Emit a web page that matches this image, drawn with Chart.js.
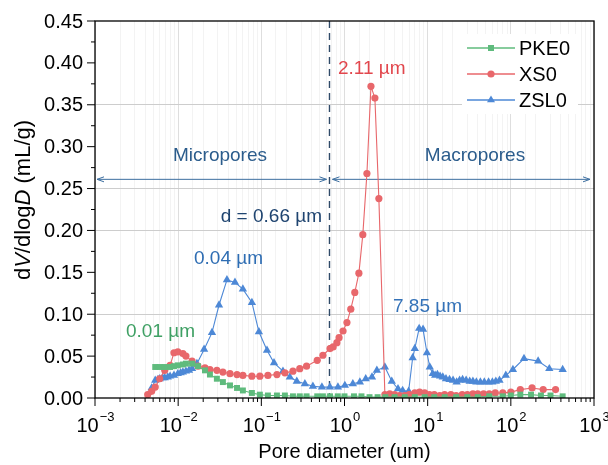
<!DOCTYPE html>
<html>
<head>
<meta charset="utf-8">
<script src="https://cdn.jsdelivr.net/npm/chart.js@4.4.0/dist/chart.umd.min.js"></script>
<style>
  html, body { margin:0; padding:0; background:#fff; }
  #wrap { width:608px; height:465px; position:relative; }
</style>
</head>
<body>
<div id="wrap"><canvas id="c"></canvas></div>
<script>
'use strict';

// ── Data (pore diameter in um, dV/dlogD in mL/g) ─────────────────────────────
var pkeX = [0.0053,0.0060,0.0069,0.0080,0.0089,0.0099,0.0114,0.0124,0.0147,0.0173,0.021,0.0241,0.0292,0.0345,0.042,0.051,0.060,0.077,0.096,0.12,0.154,0.192,0.24,0.29,0.35,0.47,0.55,0.67,0.83,1.0,1.3,1.6,2.0,2.5,3.1,4.0,5.3,7.0,9.2,12,16,22,30,40,55,80,100,130,175,230,300,420];
var pkeY = [0.037,0.037,0.037,0.037,0.038,0.039,0.040,0.041,0.041,0.038,0.033,0.028,0.023,0.019,0.015,0.012,0.009,0.006,0.004,0.003,0.003,0.003,0.002,0.002,0.002,0.002,0.002,0.002,0.002,0.002,0.002,0.002,0.001,0.001,0.001,0.001,0.001,0.001,0.001,0.001,0.001,0.001,0.001,0.001,0.002,0.002,0.003,0.004,0.004,0.003,0.003,0.002];

var xsX = [0.0043,0.0048,0.0053,0.0060,0.0069,0.0080,0.0089,0.0099,0.0114,0.0124,0.0147,0.0173,0.021,0.0241,0.0292,0.0345,0.042,0.051,0.060,0.077,0.096,0.12,0.154,0.192,0.24,0.29,0.35,0.47,0.55,0.67,0.73,0.81,0.86,0.96,1.07,1.19,1.33,1.49,1.66,1.86,2.08,2.32,2.59,3.06,3.5,4.0,4.6,5.3,6.0,7.0,8.0,9.2,10.5,12,14,16,19,22,26,30,35,40,47,55,65,80,100,130,180,245,345];
var xsY = [0.004,0.008,0.013,0.023,0.033,0.039,0.054,0.055,0.053,0.050,0.044,0.038,0.036,0.034,0.033,0.031,0.029,0.028,0.027,0.026,0.026,0.027,0.028,0.030,0.032,0.035,0.038,0.045,0.051,0.059,0.061,0.066,0.072,0.080,0.090,0.106,0.126,0.149,0.195,0.268,0.372,0.358,0.238,0.004,0.005,0.004,0.003,0.003,0.004,0.006,0.007,0.006,0.004,0.004,0.003,0.004,0.004,0.003,0.004,0.004,0.005,0.005,0.005,0.005,0.006,0.006,0.007,0.010,0.012,0.010,0.010];

var zslX = [0.0048,0.0053,0.0057,0.0060,0.0065,0.0069,0.0075,0.0080,0.0089,0.0099,0.0107,0.0114,0.0124,0.0135,0.0147,0.0168,0.0205,0.0255,0.031,0.0386,0.0482,0.060,0.077,0.0935,0.117,0.142,0.182,0.22,0.267,0.334,0.417,0.535,0.668,0.834,1.01,1.26,1.53,1.80,2.14,2.45,3.06,3.7,4.4,5.0,5.9,6.6,7.0,7.9,8.8,9.8,10.6,11.5,12.3,13.1,14.1,15.2,16.6,18.3,20.2,22.3,24.2,26.3,29,32,35,38.5,43,48,54,60,66,73,87,106,144,213,290,420];
var zslY = [0.012,0.021,0.022,0.023,0.024,0.024,0.025,0.026,0.027,0.029,0.030,0.031,0.032,0.033,0.035,0.041,0.058,0.078,0.111,0.141,0.138,0.130,0.114,0.079,0.057,0.042,0.032,0.025,0.020,0.017,0.014,0.013,0.013,0.013,0.015,0.017,0.019,0.023,0.025,0.033,0.037,0.020,0.011,0.009,0.008,0.048,0.059,0.083,0.082,0.054,0.037,0.029,0.027,0.028,0.026,0.025,0.023,0.022,0.021,0.019,0.021,0.022,0.021,0.020,0.020,0.019,0.019,0.019,0.019,0.019,0.020,0.021,0.027,0.034,0.047,0.044,0.035,0.034];

var seriesNames = ['PKE0','XS0','ZSL0'];
var yTickLabels = ['0.00','0.05','0.10','0.15','0.20','0.25','0.30','0.35','0.40','0.45'];
var xTickExps   = [-3,-2,-1,0,1,2,3];
var yGridShown  = [0.10, 0.20, 0.25, 0.35];

// ── Styles ───────────────────────────────────────────────────────────────────
var FONT = '"Liberation Sans", Arial, sans-serif';
var GREEN = '#5fbb7d', RED = '#e8676b', BLUE = '#4d88d6';

function pts(xs, ys) { return xs.map(function(x, i) { return { x:x, y:ys[i] }; }); }

function marker(ctx, style, x, y, col) {
  ctx.save(); ctx.fillStyle = col; ctx.strokeStyle = col; ctx.lineWidth = 1;
  ctx.beginPath();
  if (style === 'rect') ctx.rect(x-3, y-3, 6, 6);
  else if (style === 'circle') ctx.arc(x, y, 3.6, 0, Math.PI*2);
  else { ctx.moveTo(x, y-4.6); ctx.lineTo(x+4, y+2.3); ctx.lineTo(x-4, y+2.3); ctx.closePath(); }
  ctx.fill(); ctx.restore();
}

// ── Decorations: axes box, ticks, labels, legend, annotations ───────────────
var decor = {
  id: 'decor',
  beforeDatasetsDraw: function(chart) {
    var ctx = chart.ctx, a = chart.chartArea, xs = chart.scales.x, ys = chart.scales.y;
    // split line d = 0.66 um
    var dx = xs.getPixelForValue(0.66);
    ctx.save();
    ctx.strokeStyle = '#2f4a68'; ctx.lineWidth = 1.4; ctx.setLineDash([7,5]);
    ctx.beginPath(); ctx.moveTo(dx, a.top); ctx.lineTo(dx, a.bottom); ctx.stroke();
    ctx.setLineDash([]);
    // double arrows
    var ay = ys.getPixelForValue(0.261);
    ctx.strokeStyle = '#3c6e9f'; ctx.lineWidth = 1;
    function arrow(x1, x2) {
      ctx.beginPath(); ctx.moveTo(x1, ay); ctx.lineTo(x2, ay); ctx.stroke();
      ctx.beginPath(); ctx.moveTo(x1+7, ay-2.5); ctx.lineTo(x1, ay); ctx.lineTo(x1+7, ay+2.5); ctx.stroke();
      ctx.beginPath(); ctx.moveTo(x2-7, ay-2.5); ctx.lineTo(x2, ay); ctx.lineTo(x2-7, ay+2.5); ctx.stroke();
    }
    arrow(a.left + 2, dx - 3);
    arrow(dx + 3, a.right - 4);
    ctx.restore();
  },
  afterDraw: function(chart) {
    var ctx = chart.ctx, a = chart.chartArea, xs = chart.scales.x, ys = chart.scales.y;
    ctx.save();
    // box
    ctx.strokeStyle = '#000'; ctx.lineWidth = 1.3;
    ctx.strokeRect(a.left, a.top, a.right - a.left, a.bottom - a.top);
    // y ticks + labels
    ctx.lineWidth = 1;
    ctx.fillStyle = '#000'; ctx.font = '20px ' + FONT; ctx.textAlign = 'right'; ctx.textBaseline = 'middle';
    yTickLabels.forEach(function(lbl, i) {
      var v = parseFloat(lbl), py = ys.getPixelForValue(v);
      ctx.beginPath(); ctx.moveTo(a.left, py); ctx.lineTo(a.left - 8, py); ctx.stroke();
      if (i < yTickLabels.length - 1) {
        var pm = ys.getPixelForValue(v + 0.025);
        ctx.beginPath(); ctx.moveTo(a.left, pm); ctx.lineTo(a.left - 4, pm); ctx.stroke();
      }
      ctx.fillText(lbl, a.left - 12, py + 1);
    });
    // x ticks + labels
    xTickExps.forEach(function(e) {
      var px = xs.getPixelForValue(Math.pow(10, e));
      ctx.beginPath(); ctx.moveTo(px, a.bottom); ctx.lineTo(px, a.bottom + 8); ctx.stroke();
      if (e < 3) for (var m = 2; m <= 9; m++) {
        var pm = xs.getPixelForValue(m * Math.pow(10, e));
        ctx.beginPath(); ctx.moveTo(pm, a.bottom); ctx.lineTo(pm, a.bottom + 4); ctx.stroke();
      }
      var sup = (e < 0 ? '\u2212' : '') + Math.abs(e);
      ctx.font = '20px ' + FONT; var w1 = ctx.measureText('10').width;
      ctx.font = '13px ' + FONT; var w2 = ctx.measureText(sup).width;
      var x0 = px - (w1 + w2) / 2;
      ctx.textAlign = 'left'; ctx.textBaseline = 'alphabetic';
      ctx.font = '20px ' + FONT; ctx.fillText('10', x0, 432);
      ctx.font = '13px ' + FONT; ctx.fillText(sup, x0 + w1 + 1, 421);
    });
    // axis titles
    ctx.font = '20px ' + FONT; ctx.textAlign = 'center'; ctx.textBaseline = 'middle';
    ctx.fillText('Pore diameter (um)', (a.left + a.right) / 2, 452);
    var parts = [['d',''],['V','italic '],['/dlog',''],['D','italic '],[' (mL/g)','']];
    ctx.save(); ctx.translate(24, 200); ctx.rotate(-Math.PI/2);
    var tw = 0;
    parts.forEach(function(p) { ctx.font = p[1] + '22px ' + FONT; tw += ctx.measureText(p[0]).width; });
    var cx = -tw / 2; ctx.textAlign = 'left';
    parts.forEach(function(p) { ctx.font = p[1] + '22px ' + FONT; ctx.fillText(p[0], cx, 0); cx += ctx.measureText(p[0]).width; });
    ctx.restore();
    // legend
    ctx.fillStyle = '#fff'; ctx.fillRect(462, 34, 116, 80);
    var cols = [GREEN, RED, BLUE], shapes = ['rect','circle','triangle'];
    seriesNames.forEach(function(n, i) {
      var ly = 48 + i * 26;
      ctx.strokeStyle = cols[i]; ctx.lineWidth = 1.3;
      ctx.beginPath(); ctx.moveTo(467, ly); ctx.lineTo(515, ly); ctx.stroke();
      marker(ctx, shapes[i], 491, ly, cols[i]);
      ctx.fillStyle = '#000'; ctx.font = '20px ' + FONT; ctx.textAlign = 'left'; ctx.textBaseline = 'middle';
      ctx.fillText(n, 519, ly + 1);
    });
    // annotations
    ctx.font = '19px ' + FONT; ctx.textBaseline = 'middle';
    ctx.fillStyle = '#2b5c8c'; ctx.textAlign = 'center';
    ctx.fillText('Micropores', 220, 156);
    ctx.fillText('Macropores', 475, 156);
    ctx.fillStyle = '#1f4470'; ctx.textAlign = 'right';
    ctx.fillText('d = 0.66 \u00b5m', 322, 217);
    ctx.textAlign = 'left';
    ctx.fillStyle = '#e2474d'; ctx.fillText('2.11 \u00b5m', 338, 69);
    ctx.fillStyle = '#2e6db3'; ctx.fillText('0.04 \u00b5m', 194, 259);
    ctx.fillStyle = '#3fa064'; ctx.fillText('0.01 \u00b5m', 126, 332);
    ctx.fillStyle = '#3472b8'; ctx.fillText('7.85 \u00b5m', 393, 307);
    ctx.restore();
  }
};

function ds(label, xs, ys, col, style, r) {
  return { label:label, data:pts(xs, ys), showLine:true, borderColor:col, backgroundColor:col,
           borderWidth:1.1, pointStyle:style, pointRadius:r, pointBorderWidth:0, pointHoverRadius:r, tension:0 };
}

new Chart(document.getElementById('c'), {
  type: 'scatter',
  data: {
    datasets: [
      ds(seriesNames[0], pkeX, pkeY, GREEN, 'rect', 4.2),
      ds(seriesNames[1], xsX, xsY, RED, 'circle', 3.6),
      ds(seriesNames[2], zslX, zslY, BLUE, 'triangle', 4.8)
    ]
  },
  options: {
    responsive:true, maintainAspectRatio:false, animation:false,
    layout: { padding: { left:0, top:21, right:14, bottom:0 } },
    plugins: { legend: { display:false }, tooltip: { enabled:false } },
    scales: {
      x: {
        type:'logarithmic', min:0.001, max:1000,
        ticks: { display:false },
        grid: { drawTicks:false, lineWidth:1, color: function(c) {
          var v = c.tick ? c.tick.value : 1, l = Math.log10(v);
          return Math.abs(l - Math.round(l)) < 1e-6 ? '#dedede' : '#f3f3f3';
        } },
        border: { display:false },
        afterFit: function(s) { s.height = 67; }
      },
      y: {
        min:0, max:0.45,
        ticks: { display:false, stepSize:0.05 },
        grid: { drawTicks:false, lineWidth:1, color: function(c) {
          var v = c.tick ? c.tick.value : 0;
          return yGridShown.some(function(g) { return Math.abs(g - v) < 1e-6; }) ? '#cdcdcd' : 'rgba(0,0,0,0)';
        } },
        border: { display:false },
        afterFit: function(s) { s.width = 95; }
      }
    }
  },
  plugins: [decor]
});
</script>
</body>
</html>
